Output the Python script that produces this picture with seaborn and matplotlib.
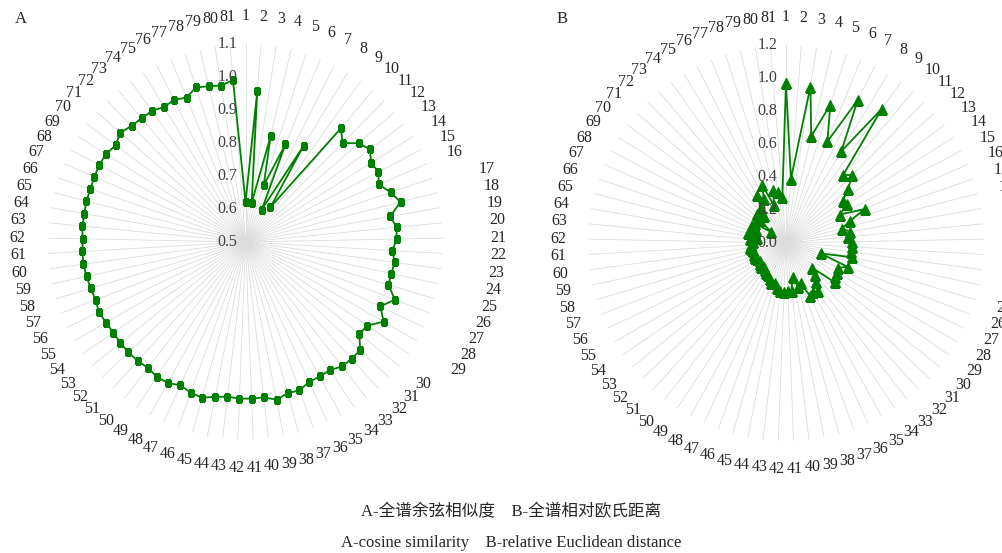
import numpy as np
import seaborn as sns
import matplotlib.pyplot as plt

# category numbers 1..81 around the radar
categories = [str(i) for i in range(1, 82)]

# A - cosine similarity of full spectrum
cosine_sim = [0.62, 0.96, 0.62, 0.83, 0.68, 0.82, 0.61, 0.84, 0.63, 0.95,
              0.92, 0.955, 0.97, 0.95, 0.955, 0.94, 0.965, 0.985, 0.945, 0.96,
              0.958, 0.946, 0.956, 0.952, 0.952, 0.985, 0.953, 0.983, 0.948, 0.943,
              0.978, 0.978, 0.977, 0.965, 0.965, 0.966, 0.978, 0.976, 0.987, 0.974,
              0.975, 0.975, 0.972, 0.978, 0.99, 0.986, 0.977, 0.988, 0.989, 0.983,
              0.986, 0.988, 0.987, 0.986, 0.988, 0.993, 0.987, 0.99, 0.993, 0.996,
              0.995, 0.994, 0.997, 0.996, 0.998, 0.997, 0.999, 1.001, 1.0, 0.991,
              1.004, 0.993, 0.99, 0.988, 0.978, 0.982, 0.973, 0.992, 0.985, 0.98,
              0.992]

# B - relative Euclidean distance of full spectrum
euclid_dist = [0.97, 0.39, 0.96, 0.665, 0.88, 0.665, 0.97, 0.65, 1.0, 0.54,
               0.575, 0.50, 0.43, 0.44, 0.37, 0.52, 0.41, 0.35, 0.395, 0.38,
               0.40, 0.40, 0.40, 0.41, 0.22, 0.40, 0.35, 0.36, 0.36, 0.38,
               0.22, 0.26, 0.30, 0.35, 0.34, 0.35, 0.26, 0.28, 0.21, 0.29,
               0.29, 0.30, 0.29, 0.28, 0.25, 0.26, 0.24, 0.22, 0.22, 0.21,
               0.20, 0.21, 0.20, 0.19, 0.20, 0.21, 0.21, 0.20, 0.21, 0.22,
               0.21, 0.20, 0.22, 0.18, 0.24, 0.22, 0.20, 0.23, 0.22, 0.11,
               0.21, 0.25, 0.21, 0.26, 0.34, 0.30, 0.38, 0.24, 0.33, 0.31,
               0.28]

ticks_a = [0.5, 0.6, 0.7, 0.8, 0.9, 1.0, 1.1]
ticks_b = [0.0, 0.2, 0.4, 0.6, 0.8, 1.0, 1.2]

sns.set_theme(style='white')
plt.rcParams['font.family'] = ['Liberation Serif', 'Noto Sans CJK SC', 'DejaVu Sans']

green = '#008000'
n = len(categories)
theta = np.linspace(0, 2 * np.pi, n, endpoint=False)
theta_closed = np.append(theta, theta[0] + 2 * np.pi)

fig = plt.figure(figsize=(10.03, 5.53), dpi=100)
ax_a = fig.add_axes([0.0474, 0.2044, 0.3948, 0.716], projection='polar')
ax_b = fig.add_axes([0.5862, 0.2026, 0.3948, 0.716], projection='polar')


def radar(ax, values, ticks, marker, msize, pushed=()):
    ax.set_theta_zero_location('N')
    ax.set_theta_direction(-1)
    vals = np.append(values, values[0])
    sns.lineplot(x=theta_closed, y=vals, sort=False, estimator=None, ax=ax,
                 color=green, linewidth=1.3, marker=marker, markersize=msize,
                 markeredgecolor=green, markerfacecolor=green)
    ax.set_ylim(ticks[0], ticks[-1])
    ax.set_xticks(theta)
    ax.set_xticklabels([])
    ax.set_yticks(ticks)
    ax.set_yticklabels([])
    ax.yaxis.grid(False)
    ax.xaxis.grid(True, color='#dcdcdc', linewidth=0.6)
    ax.spines['polar'].set_visible(False)
    ax.set_xlabel('')
    ax.set_ylabel('')
    # radial value labels along the first spoke
    for t in ticks:
        ax.annotate('{:.1f}'.format(t), xy=(0, t), xytext=(-6, 0),
                    textcoords='offset points', ha='right', va='center',
                    fontsize=11.5, color='#404040')
    # category labels outside the ring
    for ang, lbl in zip(theta, categories):
        s, c = np.sin(ang), np.cos(ang)
        dx = 30 * s + (25 if lbl in pushed else 0)
        dy = 28 * c
        ax.annotate(lbl, xy=(ang, ticks[-1]),
                    xytext=(dx * 0.72, dy * 0.72),
                    textcoords='offset points', ha='center', va='center',
                    fontsize=11.5, color='#262626', annotation_clip=False)


radar(ax_a, cosine_sim, ticks_a, 's', 5,
      pushed=[str(i) for i in range(17, 30)])
radar(ax_b, euclid_dist, ticks_b, '^', 7)

fig.text(0.015, 0.965, 'A', fontsize=12, ha='left', va='center')
fig.text(0.555, 0.965, 'B', fontsize=12, ha='left', va='center')
fig.text(0.51, 0.074, 'A-全谱余弦相似度    B-全谱相对欧氏距离',
         fontsize=12, ha='center', va='center')
fig.text(0.51, 0.018, 'A-cosine similarity    B-relative Euclidean distance',
         fontsize=12, ha='center', va='center')

fig.savefig('out.png', dpi=100)
